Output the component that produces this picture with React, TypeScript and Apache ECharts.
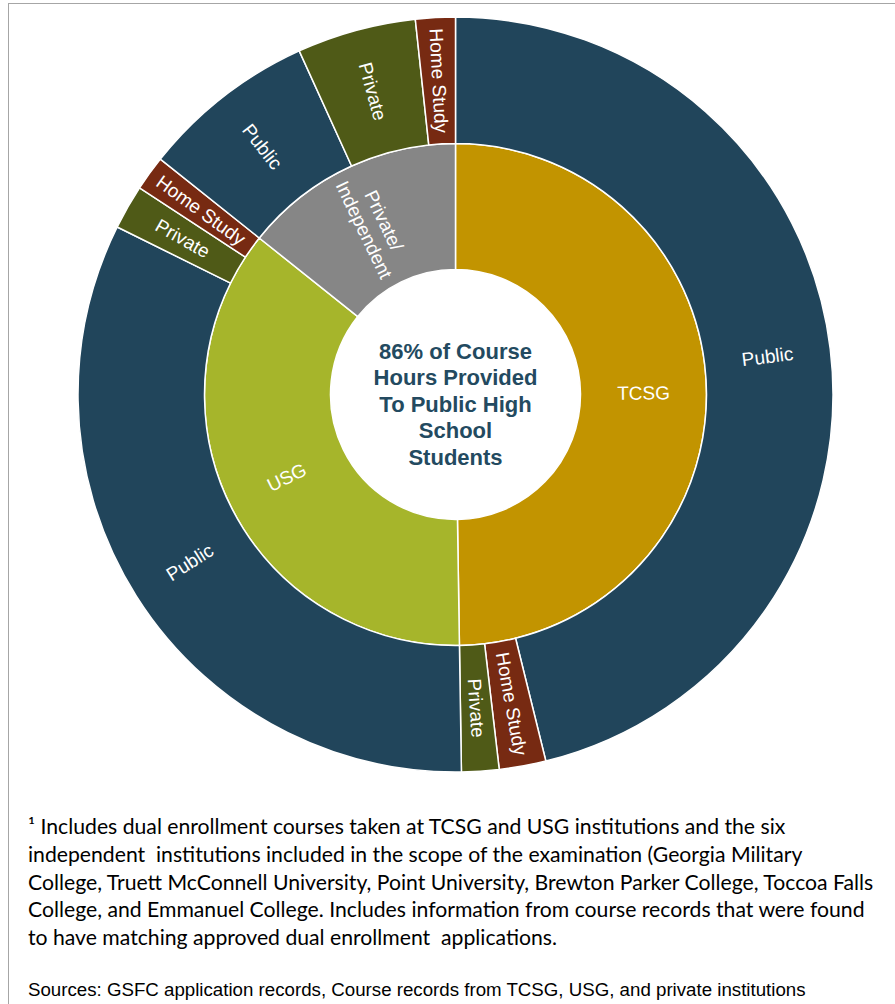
import React, { useEffect, useRef } from "react";
import * as echarts from "echarts";

// ---- data (values in % of course hours) ----
const providers = ["TCSG", "USG", "Private/\nIndependent"];
const providerColors = ["#C29400", "#A6B52B", "#868686"];
const tcsgNames = ["Public", "Home Study", "Private"];
const tcsgValues = [46.2, 2.0, 1.6];
const usgNames = ["Public", "Private", "Home Study"];
const usgValues = [32.6, 1.9, 1.5];
const privNames = ["Public", "Private", "Home Study"];
const privValues = [7.5, 5.1, 1.7];
const studentColors: Record<string, string> = {
  Public: "#21455B",
  "Home Study": "#772A12",
  Private: "#4F5A17",
};
const centerText = "86% of Course\nHours Provided\nTo Public High\nSchool\nStudents";
const footnoteLines = [
  "\u00B9 Includes dual enrollment courses taken at TCSG and USG institutions and the six",
  "independent  institutions included in the scope of the examination (Georgia Military",
  "College, Truett McConnell University, Point University, Brewton Parker College, Toccoa Falls",
  "College, and Emmanuel College. Includes information from course records that were found",
  "to have matching approved dual enrollment  applications.",
];
const sourcesLine =
  "Sources: GSFC application records, Course records from TCSG, USG, and private institutions";

const childSets = [
  [tcsgNames, tcsgValues],
  [usgNames, usgValues],
  [privNames, privValues],
] as const;

export default function App() {
  const ref = useRef<HTMLDivElement>(null);

  useEffect(() => {
    document.body.style.margin = "0";
    if (!ref.current) return;
    const chart = echarts.init(ref.current, undefined, { renderer: "svg" });
    const data = providers.map((p, i) => ({
      name: p,
      itemStyle: { color: providerColors[i] },
      children: (childSets[i][0] as readonly string[]).map((n, j) => ({
        name: n,
        value: (childSets[i][1] as readonly number[])[j],
        itemStyle: { color: studentColors[n] },
      })),
    }));
    const labelBase = {
      show: true,
      color: "#ffffff",
      fontSize: 19,
      fontFamily: "'Liberation Sans', Arial, sans-serif",
      rotate: "radial",
      align: "center",
      lineHeight: 22,
    };
    chart.setOption({
      animation: false,
      series: [
        {
          type: "sunburst",
          center: [455.5, 394.5],
          startAngle: 90,
          nodeClick: false,
          emphasis: { disabled: true },
          data,
          itemStyle: { borderColor: "#ffffff", borderWidth: 1.5 },
          label: labelBase,
          levels: [
            {},
            { r0: 125, r: 251, label: labelBase },
            { r0: 251, r: 377.5, label: labelBase },
          ],
        },
      ],
      graphic: [
        {
          type: "text",
          x: 455.5,
          y: 404,
          style: {
            text: centerText,
            fill: "#234A60",
            font: "bold 22px 'Liberation Sans', Arial, sans-serif",
            lineHeight: 26.5,
            align: "center",
            verticalAlign: "middle",
          },
        },
      ],
    });
    return () => chart.dispose();
  }, []);

  return (
    <div style={{ position: "relative", width: 895, height: 1004, overflow: "hidden", background: "#fff" }}>
      <div
        style={{
          position: "absolute",
          left: 8,
          top: 3,
          width: 887,
          height: 1001,
          borderTop: "1px solid #A6A6A6",
          borderLeft: "1px solid #A6A6A6",
          boxSizing: "border-box",
        }}
      />
      <div ref={ref} style={{ position: "absolute", left: 0, top: 0, width: 895, height: 790 }} />
      <div
        style={{
          position: "absolute",
          left: 28,
          top: 813,
          fontFamily: "Lato, 'Open Sans', sans-serif",
          fontSize: 21.2,
          lineHeight: "27.8px",
          color: "#000",
          whiteSpace: "pre",
        }}
      >
        {footnoteLines.map((l, i) => (
          <div key={i}>{l}</div>
        ))}
      </div>
      <div
        style={{
          position: "absolute",
          left: 28,
          top: 977,
          fontFamily: "'Liberation Sans', Arial, sans-serif",
          fontSize: 18.7,
          lineHeight: "26px",
          color: "#000",
          whiteSpace: "pre",
        }}
      >
        {sourcesLine}
      </div>
    </div>
  );
}
